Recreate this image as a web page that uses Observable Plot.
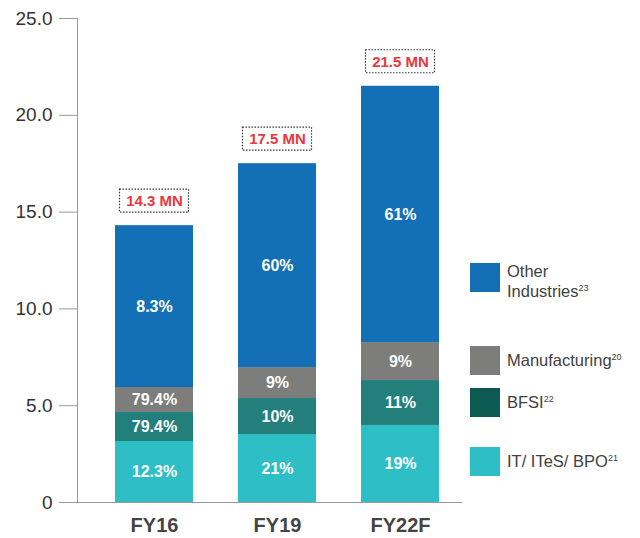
<!DOCTYPE html>
<html>
<head>
<meta charset="utf-8">
<script src="https://cdn.jsdelivr.net/npm/d3@7"></script>
<script src="https://cdn.jsdelivr.net/npm/@observablehq/plot@0.6"></script>
<style>
  html, body { margin: 0; padding: 0; background: #fff; }
  #wrap { position: relative; width: 640px; height: 538px; font-family: "Liberation Sans", Arial, Helvetica, sans-serif; }
  #legend { position: absolute; left: 0; top: 0; width: 640px; height: 538px; pointer-events: none; }
  .item { position: absolute; left: 470px; display: flex; align-items: flex-start; }
  .sw { width: 30px; height: 29px; flex: none; }
  .lbl { margin-left: 7px; font-size: 16.5px; color: #3f3f3f; line-height: 20px; }
  .lbl sup { font-size: 9px; vertical-align: 6px; line-height: 0; }
</style>
</head>
<body>
<div id="wrap">
  <div id="chart"></div>
  <div id="legend"></div>
</div>
<script>
// ---- data ----
const years = ["FY16", "FY19", "FY22F"];
const sectors = ["IT/ ITeS/ BPO", "BFSI", "Manufacturing", "Other Industries"];
const itValues = [3.15, 3.51, 3.98];
const bfsiValues = [1.5, 1.86, 2.32];
const mfgValues = [1.29, 1.6, 1.96];
const otherValues = [8.36, 10.53, 13.24];
const itLabels = ["12.3%", "21%", "19%"];
const bfsiLabels = ["79.4%", "10%", "11%"];
const mfgLabels = ["79.4%", "9%", "9%"];
const otherLabels = ["8.3%", "60%", "61%"];
const totals = [14.3, 17.5, 21.5];
const totalLabels = ["14.3 MN", "17.5 MN", "21.5 MN"];
const yTicks = [0, 5, 10, 15, 20, 25];
const barColors = ["#2ebfc6", "#227f7c", "#7d7e7c", "#136fb6"];
const legendColors = ["#2ebfc6", "#0c5a52", "#7d7e7c", "#136fb6"];
const legendNames = [["IT/ ITeS/ BPO", "21"], ["BFSI", "22"], ["Manufacturing", "20"], ["Other<br>Industries", "23"]];

const seriesValues = [itValues, bfsiValues, mfgValues, otherValues];
const seriesLabels = [itLabels, bfsiLabels, mfgLabels, otherLabels];
const data = [];
years.forEach((yr, i) => {
  sectors.forEach((s, j) => {
    data.push({year: yr, sector: s, value: seriesValues[j][i], label: seriesLabels[j][i]});
  });
});
const totalData = years.map((yr, i) => ({year: yr, total: totals[i], label: totalLabels[i]}));

const chart = Plot.plot({
  width: 640,
  height: 538,
  marginLeft: 77,
  marginRight: 163,
  marginTop: 18,
  marginBottom: 36,
  style: {fontFamily: "'Liberation Sans', Arial, Helvetica, sans-serif", background: "white", overflow: "visible"},
  x: {domain: years, paddingInner: 0.366, paddingOuter: 0.309, label: null},
  y: {domain: [0, 25], label: null},
  color: {domain: sectors, range: barColors},
  marks: [
    Plot.frame({anchor: "left", stroke: "#999", strokeWidth: 1}),
    Plot.axisY({ticks: yTicks, tickFormat: d => d === 0 ? "0" : d.toFixed(1), tickSize: 18, tickPadding: 7, fontSize: 19, fill: "#333", stroke: "#999", label: null}),
    Plot.axisX({tickSize: 0, tickPadding: 15, fontSize: 20, fontWeight: "bold", fill: "#444", label: null}),
    Plot.barY(data, {x: "year", y: "value", fill: "sector", order: sectors}),
    Plot.text(data, Plot.stackY({x: "year", y: "value", z: "sector", order: sectors, text: "label", fill: "white", fontSize: 16, fontWeight: "bold"})),
    Plot.ruleY([0], {stroke: "#999", strokeWidth: 1, insetRight: 15}),
    Plot.barY(totalData, {x: "year", y1: "total", y2: "total", insetLeft: 4.5, insetRight: 4.5, insetTop: -36, insetBottom: 13, fill: "white", stroke: "#333", strokeWidth: 1.2, strokeDasharray: "1.5,1.5"}),
    Plot.text(totalData, {x: "year", y: "total", text: "label", dy: -24.5, fill: "#e8383b", fontSize: 15, fontWeight: "bold"})
  ]
});
document.getElementById("chart").appendChild(chart);

// legend (HTML, real text)
const legendTops = [447, 388, 346, 263];
const legend = document.getElementById("legend");
legendNames.forEach(([name, sup], j) => {
  const it = document.createElement("div");
  it.className = "item";
  it.style.top = legendTops[j] + "px";
  const sw = document.createElement("div");
  sw.className = "sw";
  sw.style.background = legendColors[j];
  const lb = document.createElement("div");
  lb.className = "lbl";
  lb.style.marginTop = j === 3 ? "-2px" : "4px";
  lb.innerHTML = name + "<sup>" + sup + "</sup>";
  it.appendChild(sw);
  it.appendChild(lb);
  legend.appendChild(it);
});
</script>
</body>
</html>
